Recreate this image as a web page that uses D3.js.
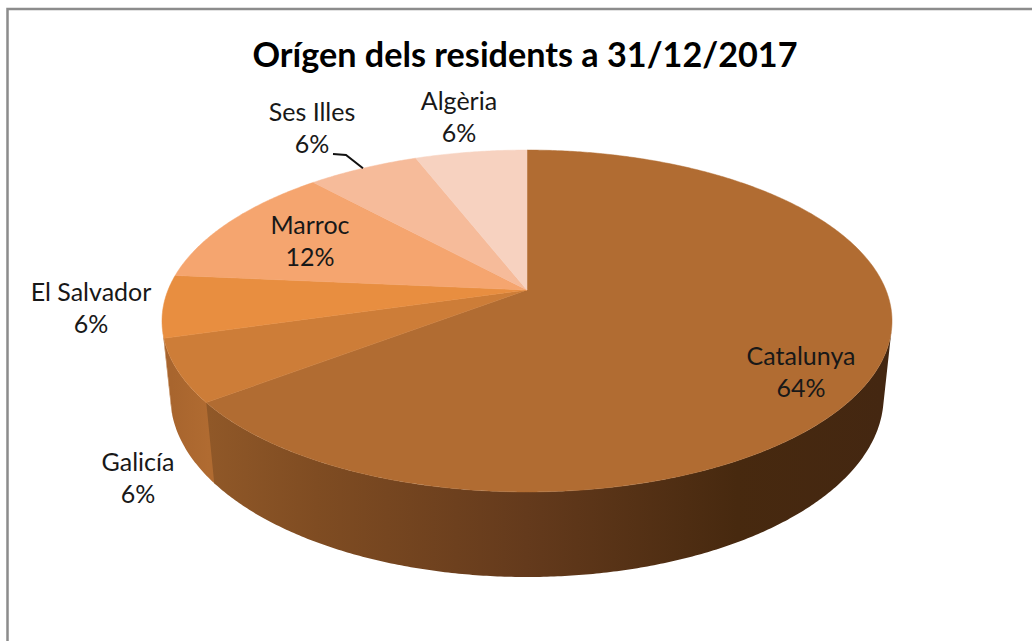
<!DOCTYPE html>
<meta charset="utf-8">
<style>
    body { margin: 0; background: #fff; }
    text { font-family: Lato, "Open Sans", sans-serif; fill: #181818; }
</style>
<svg width="1032" height="641"></svg>
<script src="https://cdn.jsdelivr.net/npm/d3@7"></script>
<script>

    // values, the printed labels round differently
    const categories = ["Catalunya", "Galicía", "El Salvador", "Marroc", "Ses Illes", "Algèria"];
    const shares = [64.7, 5.9, 5.9, 11.8, 5.9, 5.9];
    const shareLabels = ["64%", "6%", "6%", "12%", "6%", "6%"];
    const topColors = ["#b16c32", "#cd7d38", "#e88e40", "#f5a56f", "#f6bb9a", "#f7d2c0"];
    const labelCenters = [[801, 372], [138, 478], [91, 308], [310, 241], [312, 128], [459, 117]];

    const svg = d3.select("svg");
    const defs = svg.append("defs");

    // frame of the chart area, it runs out of the picture on the other sides
    svg.append("path")
        .attr("d", "M7.5,645V9H1036")
        .attr("fill", "none")
        .attr("stroke", "#8c8c8c")
        .attr("stroke-width", 2.5);

    svg.append("text")
        .attr("x", 525)
        .attr("y", 67)
        .attr("text-anchor", "middle")
        .style("font-size", "34.2px")
        .style("font-weight", "700")
        .style("fill", "#000")
        .text("Orígen dels residents a 31/12/2017");

    // perspective camera: disc of radius 1, depth 0 is the top face and 1 the bottom
    const cx = 527, cy = 290;
    const project = function (angle, depth) {
        const X = Math.sin(angle), Y = Math.cos(angle);
        const w = 5.516 + Y + 0.125 * depth;
        return [cx + 1980 * X / w, cy + (-912 * Y + 420 * depth) / w];
    };

    const pie = d3.pie().sort(null).startAngle(0).endAngle(2 * Math.PI);
    const arcs = pie(shares);
    const line = d3.line();

    // rim points of an angle range, for one depth
    const rim = function (d, depth) {
        const n = Math.ceil((d.endAngle - d.startAngle) * 120);
        return d3.range(n + 1).map(function (k) {
            return project(d.startAngle + (d.endAngle - d.startAngle) * k / n, depth);
        });
    };

    // where the wall turns away: tangent from the vanishing point of the verticals
    const vanishY = cy + 420 / 0.125;
    const sideAngle = d3.greatest(d3.range(90, 180, 0.1), function (deg) {
        const p = project(deg * Math.PI / 180, 0);
        return (p[0] - cx) / (vanishY - p[1]);
    }) * Math.PI / 180;

    // side wall shading, by position along the front of the rim (-1 left, 1 right)
    const wallStops = [-0.8, -0.5, 0, 0.5, 1];
    const wallColors = ["#905828", "#7f4c22", "#643a1c", "#47290f", "#442711"];
    const galiciaStops = [-1, -0.8];
    const galiciaColors = ["#a8652e", "#b06b31"];

    const addGradient = function (id, stops, colors) {
        const x0 = project(Math.PI + Math.PI / 2, 0.5)[0];
        const x1 = project(Math.PI - Math.PI / 2, 0.5)[0];
        const g = defs.append("linearGradient")
            .attr("id", id)
            .attr("gradientUnits", "userSpaceOnUse")
            .attr("x1", x0).attr("x2", x1).attr("y1", 0).attr("y2", 0);
        stops.forEach(function (v, i) {
            const x = project(Math.PI - Math.asin(v), 0.5)[0];
            g.append("stop")
                .attr("offset", (x - x0) / (x1 - x0))
                .attr("stop-color", colors[i]);
        });
    };
    addGradient("wall0", wallStops, wallColors);
    addGradient("wall1", galiciaStops, galiciaColors);

    // only the front part of each slice has a wall; Catalunya goes last to close the seam
    const walls = arcs.map(function (d, i) {
        return {
            startAngle: Math.max(d.startAngle, sideAngle) - (i === 1 ? 0.006 : 0),
            endAngle: Math.min(d.endAngle, 2 * Math.PI - sideAngle),
            fill: i < 2 ? "url(#wall" + i + ")" : d3.color(topColors[i]).darker(0.7).formatHex()
        };
    }).filter(function (d) {
        return d.endAngle > d.startAngle;
    }).reverse();

    svg.append("g").attr("class", "walls")
        .selectAll("path")
        .data(walls)
        .enter()
        .append("path")
        .attr("d", function (d) {
            return line(rim(d, 0).concat(rim(d, 1).reverse())) + "Z";
        })
        .attr("fill", function (d) { return d.fill; });

    // top face
    svg.append("g").attr("class", "slices")
        .selectAll("path")
        .data(arcs)
        .enter()
        .append("path")
        .attr("d", function (d) {
            return line([[cx, cy]].concat(rim(d, 0))) + "Z";
        })
        .attr("fill", function (d, i) { return topColors[i]; })
        .attr("stroke", function (d, i) { return topColors[i]; })
        .attr("stroke-width", 0.5);

    // leader of Ses Illes
    const leaderEnd = project((arcs[4].startAngle + arcs[4].endAngle) / 2, 0);
    svg.append("path")
        .attr("d", line([[333, 154], [346, 155], leaderEnd]))
        .attr("fill", "none")
        .attr("stroke", "#111")
        .attr("stroke-width", 2);

    const labels = svg.append("g").attr("class", "labels")
        .selectAll("text")
        .data(categories)
        .enter()
        .append("text")
        .attr("text-anchor", "middle")
        .attr("transform", function (d, i) {
            return "translate(" + labelCenters[i][0] + "," + labelCenters[i][1] + ")";
        })
        .style("font-size", "25px");

    labels.append("tspan").attr("x", 0).attr("y", -7).text(function (d) { return d; });
    labels.append("tspan").attr("x", 0).attr("y", 25).text(function (d, i) { return shareLabels[i]; });

</script>
